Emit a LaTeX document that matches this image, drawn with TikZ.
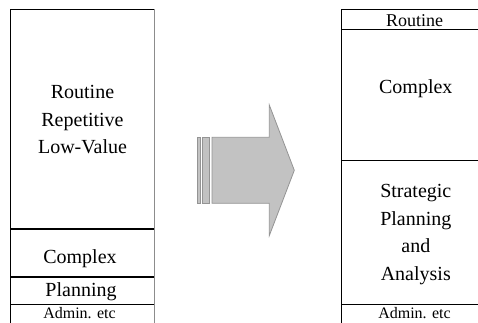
\documentclass[tikz,border=0pt]{standalone}
\usepackage{fontspec}
\setmainfont{Liberation Serif}
\begin{document}
\begin{tikzpicture}[x=1pt,y=-1pt,
  big/.style={font=\fontsize{20}{27.5}\selectfont, inner sep=0pt, align=center},
  small/.style={font=\fontsize{18}{22}\selectfont, inner sep=0pt},
  tiny/.style={font=\fontsize{16}{18}\selectfont, inner sep=0pt},
  thinline/.style={black, line width=0.9pt},
  thickline/.style={black, line width=1.5pt},
  arrowshape/.style={fill=black!24, draw=black!42, line width=0.8pt, line join=miter}
]
\useasboundingbox (0,0) rectangle (478,322);
\clip (0,0) rectangle (478,322);
% left column
\draw[thinline] (10.7,330) -- (10.7,9.5) -- (154.3,9.5);
\draw[black!45, line width=1.6pt] (154.3,9) -- (154.3,330);
\draw[thickline] (10.7,229) -- (154.3,229);
\draw[thickline] (10.7,277) -- (154.3,277);
\draw[thinline] (10.7,304.3) -- (154.3,304.3);
\node[big] (lroutine) at (82.5,119.6) {Routine\\Repetitive\\Low-Value};
\node[big, anchor=base] (lcomplex) at (80,263.3) {Complex};
\node[big, anchor=base] (lplanning) at (81,296.7) {Planning};
\node[tiny, anchor=base] (ladmin) at (79.5,318) {Admin. etc};
% arrow
\draw[arrowshape] (197,137.3) rectangle (200.7,203.3);
\draw[arrowshape] (202.7,137.3) rectangle (209.3,203.3);
\draw[arrowshape] (212,137.3) -- (269.3,137.3) -- (269.3,105) -- (294.3,170.3)
  -- (269.3,235.6) -- (269.3,203.3) -- (212,203.3) -- cycle;
% right column
\draw[thinline] (341.7,330) -- (341.7,9.3) -- (480,9.3);
\draw[thickline] (341.7,29.6) -- (480,29.6);
\draw[thinline] (341.7,160) -- (480,160);
\draw[thinline] (341.7,304.3) -- (480,304.3);
\node[small, anchor=base] (rroutine) at (414.5,26.7) {Routine};
\node[big, anchor=base] (rcomplex) at (415.8,93.3) {Complex};
\node[big] (rstrat) at (415.8,234.5) {Strategic\\Planning\\and\\Analysis};
\node[tiny, anchor=base] (radmin) at (414.5,318) {Admin. etc};
\end{tikzpicture}
\end{document}
